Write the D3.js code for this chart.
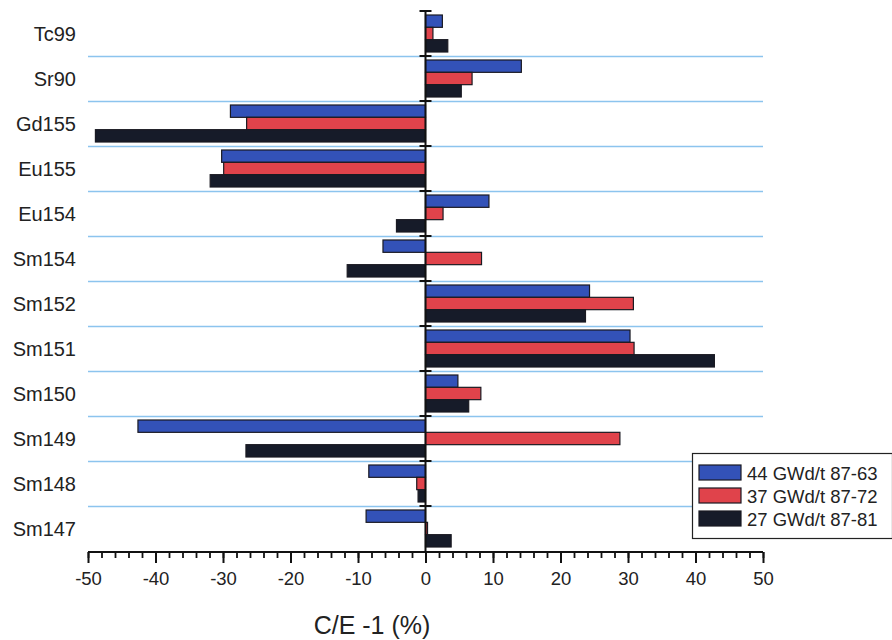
<!DOCTYPE html>
<html><head><meta charset="utf-8">
<script src="https://cdn.jsdelivr.net/npm/d3@7"></script>
<style>body{margin:0;background:#fff;}svg{display:block;font-family:"Liberation Sans",Arial,sans-serif;}</style>
</head><body>
<svg id="c" width="892" height="640"></svg>
<script>
const categories = ["Tc99","Sr90","Gd155","Eu155","Eu154","Sm154","Sm152","Sm151","Sm150","Sm149","Sm148","Sm147"];
const seriesNames = ["44 GWd/t 87-63","37 GWd/t 87-72","27 GWd/t 87-81"];
const s44 = [2.5, 14.2, -28.9, -30.2, 9.4, -6.3, 24.3, 30.3, 4.8, -42.6, -8.4, -8.8];
const s37 = [1.1, 6.9, -26.5, -29.9, 2.6, 8.3, 30.8, 30.9, 8.2, 28.8, -1.3, 0.3];
const s27 = [3.3, 5.3, -48.9, -31.9, -4.3, -11.6, 23.7, 42.8, 6.4, -26.6, -1.1, 3.8];
const xTicks = [-50,-40,-30,-20,-10,0,10,20,30,40,50];
const colors = ["#3352b8","#e0434b","#161b29"];
const series = [s44, s37, s27];

const svg = d3.select("#c");
const x = d3.scaleLinear().domain([-50,50]).range([88,763]);
const y = d3.scaleBand().domain(categories).range([11,551]).paddingInner(0).paddingOuter(0);
const yi = d3.scaleBand().domain(d3.range(3)).range([4, y.bandwidth()-4]);

// gridlines at category boundaries
svg.append("g").selectAll("line").data(categories.slice(1)).join("line")
  .attr("x1", x(-50)).attr("x2", x(50))
  .attr("y1", d => y(d)+0.5).attr("y2", d => y(d)+0.5)
  .attr("stroke", "#8cc4ee").attr("stroke-width", 1.5);

// bars
categories.forEach((c, i) => {
  series.forEach((s, j) => {
    const v = s[i];
    svg.append("rect")
      .attr("x", x(Math.min(0, v)))
      .attr("y", y(c) + yi(j))
      .attr("width", Math.abs(x(v) - x(0)))
      .attr("height", yi.bandwidth())
      .attr("fill", colors[j])
      .attr("stroke", "#1a1a22").attr("stroke-width", 1.2);
  });
});

// zero axis
svg.append("line").attr("x1", x(0)).attr("x2", x(0)).attr("y1", 11).attr("y2", 552)
  .attr("stroke", "#111").attr("stroke-width", 2);
svg.append("g").selectAll("line").data(d3.range(categories.length)).join("line")
  .attr("x1", x(0)-6).attr("x2", x(0)+6)
  .attr("y1", d => y(categories[d])).attr("y2", d => y(categories[d]))
  .attr("stroke", "#111").attr("stroke-width", 2);

// category labels
svg.append("g").selectAll("text").data(categories).join("text")
  .attr("x", 76).attr("y", d => y(d) + y.bandwidth()/2)
  .attr("text-anchor", "end").attr("dominant-baseline", "central")
  .attr("font-size", 20).attr("fill", "#222").text(d => d);

// x axis
const xg = svg.append("g").attr("transform", "translate(0,552)");
xg.append("g").call(d3.axisBottom(x).tickValues(d3.range(-50, 51, 2)).tickSize(6).tickFormat(""))
  .call(g => g.select(".domain").remove())
  .call(g => g.selectAll("line").attr("stroke", "#111").attr("stroke-width", 1.8));
xg.append("g").call(d3.axisBottom(x).tickValues(xTicks).tickSize(11).tickPadding(9).tickFormat(d => String(d)))
  .call(g => g.select(".domain").remove())
  .call(g => g.selectAll("line").attr("stroke", "#111").attr("stroke-width", 2))
  .call(g => g.selectAll("text").attr("font-size", 18.5).attr("fill", "#222").attr("font-family", "Liberation Sans, Arial, sans-serif"));
xg.append("line").attr("x1", x(-50)).attr("x2", x(50)).attr("y1", 0).attr("y2", 0)
  .attr("stroke", "#111").attr("stroke-width", 2.2);

svg.append("text").attr("x", 372).attr("y", 634).attr("text-anchor", "middle")
  .attr("font-size", 25).attr("fill", "#222").text("C/E -1 (%)");

// legend
const lg = svg.append("g");
lg.append("rect").attr("x", 692.5).attr("y", 453.5).attr("width", 200).attr("height", 85)
  .attr("fill", "#fff").attr("stroke", "#222").attr("stroke-width", 1.2);
seriesNames.forEach((n, j) => {
  const yy = 465 + j*23;
  lg.append("rect").attr("x", 699).attr("y", yy).attr("width", 42).attr("height", 15)
    .attr("fill", colors[j]).attr("stroke", "#1a1a22").attr("stroke-width", 1.2);
  lg.append("text").attr("x", 747).attr("y", yy + 8).attr("dominant-baseline", "central")
    .attr("font-size", 18.5).attr("fill", "#222").text(n);
});
</script>
</body></html>
